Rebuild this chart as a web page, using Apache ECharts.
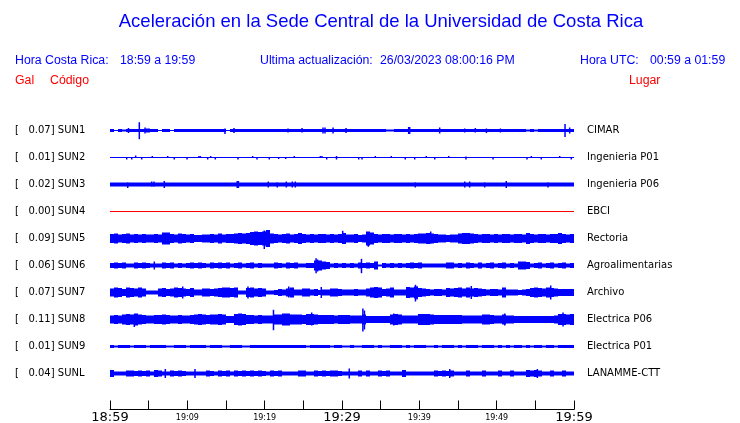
<!DOCTYPE html>
<html><head><meta charset="utf-8">
<script src="https://cdn.jsdelivr.net/npm/echarts@6/dist/echarts.min.js"></script>
<style>html,body{margin:0;padding:0;background:#fff}#c{width:740px;height:423px}</style>
</head><body><div id="c"></div>
<script>
// ---- data ----
const codes  = ['SUN1','SUN2','SUN3','SUN4','SUN5','SUN6','SUN7','SUN8','SUN9','SUNL'];
const galMax = ['0.07','0.01','0.02','0.00','0.09','0.06','0.07','0.11','0.01','0.04'];
const places = ['CIMAR','Ingenieria P01','Ingenieria P06','EBCI','Rectoria','Agroalimentarias','Archivo','Electrica P06','Electrica P01','LANAMME-CTT'];
const tickMinutes = [0,10,20,30,40,50,60];
const tickLabels  = ['18:59','19:09','19:19','19:29','19:39','19:49','19:59'];
const majorLabels = ['18:59','19:29','19:59'];

// envelope half-amplitudes (trace units) over the hour, evenly spaced samples
const env_SUN1 = [1.5,0.5,1.5,1,1.5,1.5,1.5,1.5,1.5,2, 1.5,1.5,0.5,1.5,1.5,0.5,1.5,1.5,1.5,1.5, 1.5,1.5,1.5,1.5,1.5,1.5,1.5,1.5,1.5,0.5,
 1.5,1.5,1.5,1.5,1.5,1.5,1.5,1.5,1.5,1.5, 1.5,1.5,1.5,1.5,1.5,1.5,1.5,1.5,1.5,1.5, 1.5,1.5,1.5,1.5,1.5,1.5,1.5,1.5,1.5,1.5,
 1.5,1.5,1.5,1.5,1.5,1.5,1.5,1.5,1.5,1, 1,1.5,1.5,1.5,1.5,1.5,1.5,1.5,1.5,1.5, 1.5,1.5,1.5,1.5,1.5,1.5,1.5,1.5,1.5,1.5,
 1.5,1.5,1.5,1.5,1.5,1.5,1.5,1.5,1.5,1.5, 1.5,1.5,1.5,1.5,1,1.5,1,1.5,1.5,1.5, 1.5,1.5,1.5,1.5,1.5,1.5];
const env_SUN2 = [0.5];
const env_SUN3 = [2];
const env_SUN4 = [0.5];
const env_SUN5 = [4.5,5,4,4.5,5,4,4.5,4,4.5,4, 4,4.5,4,6,6,4.5,4,5,4.5,4, 4.5,3.5,3.5,4,4,4.5,4,5,4,4.5,
 4.5,5,5.5,5,5.5,6.5,7,6.5,7,8.5, 5,4.5,4,4.5,5,4,4.5,5.5,4.5,4, 4.5,4,4.5,4.5,4,4.5,4,4.5,5.5,4,
 4,4.5,3.5,4,7,6,4.5,4,4.5,4.5, 4,4.5,4.5,4,4.5,4,4.5,5,5,5.5, 5,4.5,4,4,3.5,4,4,5,5.5,5.5,
 5,4.5,4,4.5,4.5,4,4.5,4,4.5,4.5, 4,4.5,4.5,4,5.5,4.5,4,4.5,4.5,4, 4.5,4.5,5.5,4.5,4,4.5];
const env_SUN6 = [2.5,3,2.5,3,2,2,3,2.5,3,2.5, 2,2,2,3,2.5,3,2,2.5,2,2.5, 3,2.5,3,2.5,2,3,2.5,3,2.5,3,
 2,2.5,3,2,2.5,3,2,2.5,2,2, 2,3,2.5,2,3,2.5,3,2,2,2.5, 2.5,5,5,4,3.5,2,2.5,2,2.5,2,
 2.5,2,3,2.5,3,2.5,4,1,2.5,2, 2.5,2,2.5,2,2.5,3,2.5,3,2,2, 2,2,2,2,3,3,2,2.5,2,3,
 2.5,2,3,2,2.5,3,2,2.5,3,2, 2.5,2,4,4,3.5,2,2.5,3,2,2.5, 3,2,2.5,3,2,2.5];
const env_SUN7 = [4,5,4.5,3.5,5,4.5,4,5,4,2, 2,2,4,4.5,3.5,4,5,4.5,4,3.5, 4.5,3,3,4,4,3.5,4,4.5,5,5,
 4.5,5,2,2,4.5,5,4,4.5,4,2, 2,2.5,3.5,3,4,5,3,3,4,4, 3,3.5,2.5,3,3,4,4,3.5,3,3,
 3,3.5,3,3,4,5,5.5,5,3.5,4, 5,3,3,3,5.5,5,6,4.5,4,3.5, 3,3.5,3.5,3,4.5,4,4.5,5,4,5,
 4,4.5,4,3.5,3,3.5,3.5,3,5,3, 3,3,2.5,3,3.5,4.5,5,4.5,4,5, 4.5,4,3.5,3.5,3.5,3.5];
const env_SUN8 = [4,4.5,4,5,5.5,5,6,5,4.5,4, 4,4.5,4.5,5,4.5,4,4,4.5,4,4, 4.5,5,5.5,5,4.5,5,5,5.5,5,3.5,
 3.5,5.5,6,5.5,4.5,4.5,4,4.5,4,4, 4,5,5,6,6,5,5,5,4.5,5.5, 5.5,5,4.5,4.5,4.5,4.5,4,4.5,4.5,4.5,
 4,4,4,5,3.5,3.5,3.5,3.5,3.5,3.5, 5,5.5,5,4,4,4,4,5.5,5.5,5.5, 5,4.5,4.5,4.5,4.5,4.5,4.5,4.5,4,4,
 4,4,4,5,5,4.5,4,4,5,4, 4,3.5,3.5,3.5,3.5,3.5,3.5,3.5,3.5,3.5, 3.5,4,5.5,5.5,5,5.5];
const env_SUN9 = [1.5,1,1.5,1.5,1.5,1,1.5,1.5,1.5,1, 1.5,1.5,1.5,1.5,1,1,1.5,1.5,1.5,1, 1.5,1.5,1.5,1.5,1,1.5,1.5,1.5,1,1,
 1.5,1.5,1.5,1,1,1.5,1.5,1.5,1.5,1.5, 1.5,1.5,1.5,1.5,1.5,1.5,1.5,1.5,1.5,1, 1.5,1.5,1.5,1.5,1.5,1,1.5,1.5,1,1,
 1.5,1,1,1.5,1.5,1.5,1,1.5,1,1, 1.5,1.5,1.5,1,1.5,1,1.5,1.5,1.5,1, 1,1.5,1,1.5,1.5,1.5,1,1.5,1,1.5,
 1.5,1.5,1,1.5,1.5,1.5,1,1.5,1,1.5, 1,1.5,1.5,1,1.5,1,1.5,1.5,1,1.5, 1.5,1,1.5,1.5,1.5,1.5];
const env_SUNL = [3.5,2,2,2,3,3,2.5,3,2.5,3, 2,3.5,3,2,2,3,2.5,3,2.5,2, 2,2,2,2,3,2.5,2,3,2.5,3,
 2,3,2.5,3,2.5,3,2.5,3,2.5,2, 3,2.5,3,2,2,2,2,3,3,2, 2,3,2.5,3,2.5,3,3,2.5,2,2,
 2,2,3,2,3,2,2,3,2.5,3, 2,2,2,3.5,2,2,2,2,2,2, 2,3,2.5,3,2.5,3,2,2,2,3,
 2,2,2,3,2,2,2,3,2,2, 3,2,2,2,3.5,3,3.5,3,2,2, 3,2,2,3,2,2];

// narrow spikes: [minute, up, down]
const spikes_SUN1 = [[2.39,2.5,2.5],[3.79,8.3,8.7],[4.53,3,3],[14.87,2,3.5],[16.03,2.5,2.5],[23.02,2,2],[24.83,2.5,2],[27.54,3,3],[27.80,3,3],[28.84,3,3],[30.52,2.5,2.5],[38.62,3.5,3.5],[38.75,3.5,3.5],[42.63,3,3],[45.87,2,2],[47.24,2.5,2],[48.67,2,2.5],[50.48,2,2],[58.84,6.5,6.5],[59.44,3,3]];
const spikes_SUN2 = [[2.16,0.5,2],[2.81,0.5,2],[3.32,2,0.5],[4.10,0.5,2],[5.47,1.5,0.5],[7.46,1.5,0.5],[8.31,0.5,2],[9.96,0.5,2],[11.50,1.5,0.5],[11.68,1.5,0.5],[12.63,0.5,2],[13.02,1.5,0.5],[13.62,0.5,2],[16.55,0.5,2],[18.45,1.5,0.5],[19.01,0.5,2],[20.60,0.5,2],[21.81,0.5,1.5],[22.72,0.5,1.5],[23.83,1.5,0.5],[27.2,1.5,0.5],[27.4,1.5,0.5],[28.02,0.5,2],[29.29,1.5,2],[32.16,0.5,2],[32.59,0.5,2],[34.31,1.5,0.5],[36.37,1.5,0.5],[38.18,0.5,2],[39.40,0.5,2],[40.90,1.5,0.5],[41.99,0.5,2],[43.80,1.5,0.5],[46.03,1,2],[49.53,0.5,2],[53.92,0.5,2],[54.48,1.5,0.5],[55.77,0.5,2],[58.15,1.5,0.5],[59.65,0.5,2]];
const spikes_SUN3 = [[2.29,2,3.5],[5.39,3,2],[5.69,3,2],[7.02,3.5,3.5],[16.45,3.5,3.5],[16.6,3.5,3.5],[20.47,3,3],[21.63,2,3],[22.80,3,3],[23.57,3,3],[23.96,3,3],[39.48,2,3],[45.87,3,3],[46.51,3,3],[48.45,2,3],[51.24,3.5,3.5],[56.64,2,3]];
const spikes_SUN4 = [];
const spikes_SUN5 = [[19.95,8,10.5],[20.2,7,8],[30.09,7.7,5],[33.40,5,8.3],[41.47,7,5]];
const spikes_SUN6 = [[5.73,4,4],[26.65,7.3,7.7],[26.85,6,6],[32.52,6.7,7.7]];
const spikes_SUN7 = [[9.40,6,6],[17.84,6,6],[23.11,6,5],[27.32,5.5,5.5],[39.5,7.7,9],[39.7,6,7],[46.72,6.5,6.5],[56.99,7,7]];
const spikes_SUN8 = [[3.14,5,7.5],[21.14,9.7,10.7],[26.08,7,6],[32.7,11,12],[32.9,9,10],[36.69,6,6],[51.04,6,6],[58.58,7,7]];
const spikes_SUN9 = [];
const spikes_SUNL = [[7.15,4.5,4.5],[10.99,4.5,4.5],[30.94,5,5],[43.93,4.5,4.5],[55.26,4.5,4.5]];

const ENV = [env_SUN1,env_SUN2,env_SUN3,env_SUN4,env_SUN5,env_SUN6,env_SUN7,env_SUN8,env_SUN9,env_SUNL];
const SPIKES = [spikes_SUN1,spikes_SUN2,spikes_SUN3,spikes_SUN4,spikes_SUN5,spikes_SUN6,spikes_SUN7,spikes_SUN8,spikes_SUN9,spikes_SUNL];

// ---- chart ----
const ROW = 27;            // spacing between traces in axis units
const BLUE = '#0000ff', RED = '#ff0000';
const traceColor = i => codes[i] === 'SUN4' ? RED : BLUE;

function makeSeries(i) {
  const env = ENV[i], sp = SPIKES[i];
  const dt = 60 / env.length;
  const data = [];
  env.forEach((a, k) => data.push([k * dt, (k + 1) * dt, a, a, 0]));
  sp.forEach(s => data.push([s[0], s[0], s[1], s[2], 1]));
  const color = traceColor(i);
  return {
    type: 'custom', name: codes[i], data: data, silent: true, clip: false,
    encode: { x: [0, 1], y: 2 },
    renderItem: function (params, api) {
      const x0 = api.value(0), x1 = api.value(1), up = api.value(2), dn = api.value(3), kind = api.value(4);
      const off = i * ROW;
      const p0 = api.coord([x0, off - up]);
      const p1 = api.coord([x1, off + dn]);
      let x = p0[0], w = p1[0] - p0[0];
      if (kind === 1) { x = p0[0] - 0.75; w = 1.5; }
      return { type: 'rect', shape: { x: x, y: Math.min(p0[1], p1[1]), width: w, height: Math.abs(p1[1] - p0[1]) }, style: { fill: color } };
    }
  };
}

function rowIndex(v) {
  const i = Math.round(v / ROW);
  if (i < 0 || i >= codes.length || Math.abs(v - i * ROW) > 0.01) return -1;
  return i;
}

const yBase = {
  type: 'value', inverse: true, min: -ROW, max: 279, interval: ROW,
  axisLine: { show: false }, axisTick: { show: false }, splitLine: { show: false }
};

const hdr = (x, y, text, color, size, align) => ({
  type: 'text', x: x, y: y, silent: true,
  style: { text: text, fill: color, font: size + 'px "Liberation Sans", Arial, sans-serif', align: align || 'left', verticalAlign: 'middle' }
});

const chart = echarts.init(document.getElementById('c'), null, { renderer: 'canvas' });
chart.setOption({
  animation: false,
  backgroundColor: '#ffffff',
  grid: { left: 110, right: 166, top: 103.5, height: 306, containLabel: false, outerBoundsMode: 'none' },
  xAxis: {
    type: 'value', min: 0, max: 60, interval: 5,
    axisLine: { onZero: false, lineStyle: { color: '#000', width: 1 } },
    axisTick: { inside: true, length: 9, lineStyle: { color: '#000', width: 1 } },
    splitLine: { show: false },
    axisLabel: {
      margin: 1, color: '#000', showMinLabel: true, showMaxLabel: true, hideOverlap: false,
      formatter: function (v) {
        const idx = tickMinutes.indexOf(Math.round(v));
        if (idx < 0) return '';
        const lab = tickLabels[idx];
        return majorLabels.indexOf(lab) >= 0 ? '{b|' + lab + '}' : '{s|' + lab + '}';
      },
      rich: {
        b: { fontSize: 13, fontFamily: 'DejaVu Sans', color: '#000', lineHeight: 15 },
        s: { fontSize: 8, fontFamily: 'DejaVu Sans', color: '#000', lineHeight: 15 }
      }
    }
  },
  yAxis: [
    Object.assign({}, yBase, {
      position: 'left',
      axisLabel: {
        align: 'left', margin: 95, color: '#000', fontFamily: 'DejaVu Sans', fontSize: 10,
        formatter: function (v) { const i = rowIndex(v); return i < 0 ? '' : '[   ' + galMax[i] + '] ' + codes[i]; }
      }
    }),
    Object.assign({}, yBase, {
      position: 'right',
      axisLabel: {
        align: 'left', margin: 13, color: '#000', fontFamily: 'DejaVu Sans', fontSize: 10,
        formatter: function (v) { const i = rowIndex(v); return i < 0 ? '' : places[i]; }
      }
    })
  ],
  graphic: [
    hdr(381, 22, 'Aceleración en la Sede Central de la Universidad de Costa Rica', BLUE, 18.5, 'center'),
    hdr(15, 61, 'Hora Costa Rica:', BLUE, 12.3),
    hdr(120, 61, '18:59 a 19:59', BLUE, 12.3),
    hdr(260, 61, 'Ultima actualización:', BLUE, 12.3),
    hdr(380, 61, '26/03/2023 08:00:16 PM', BLUE, 12.3),
    hdr(580, 61, 'Hora UTC:', BLUE, 12.3),
    hdr(650, 61, '00:59 a 01:59', BLUE, 12.3),
    hdr(15, 81, 'Gal', RED, 12.3),
    hdr(50, 81, 'Código', RED, 12.3),
    hdr(629, 81, 'Lugar', RED, 12.3)
  ],
  series: codes.map((c, i) => makeSeries(i))
});
</script>
</body></html>
